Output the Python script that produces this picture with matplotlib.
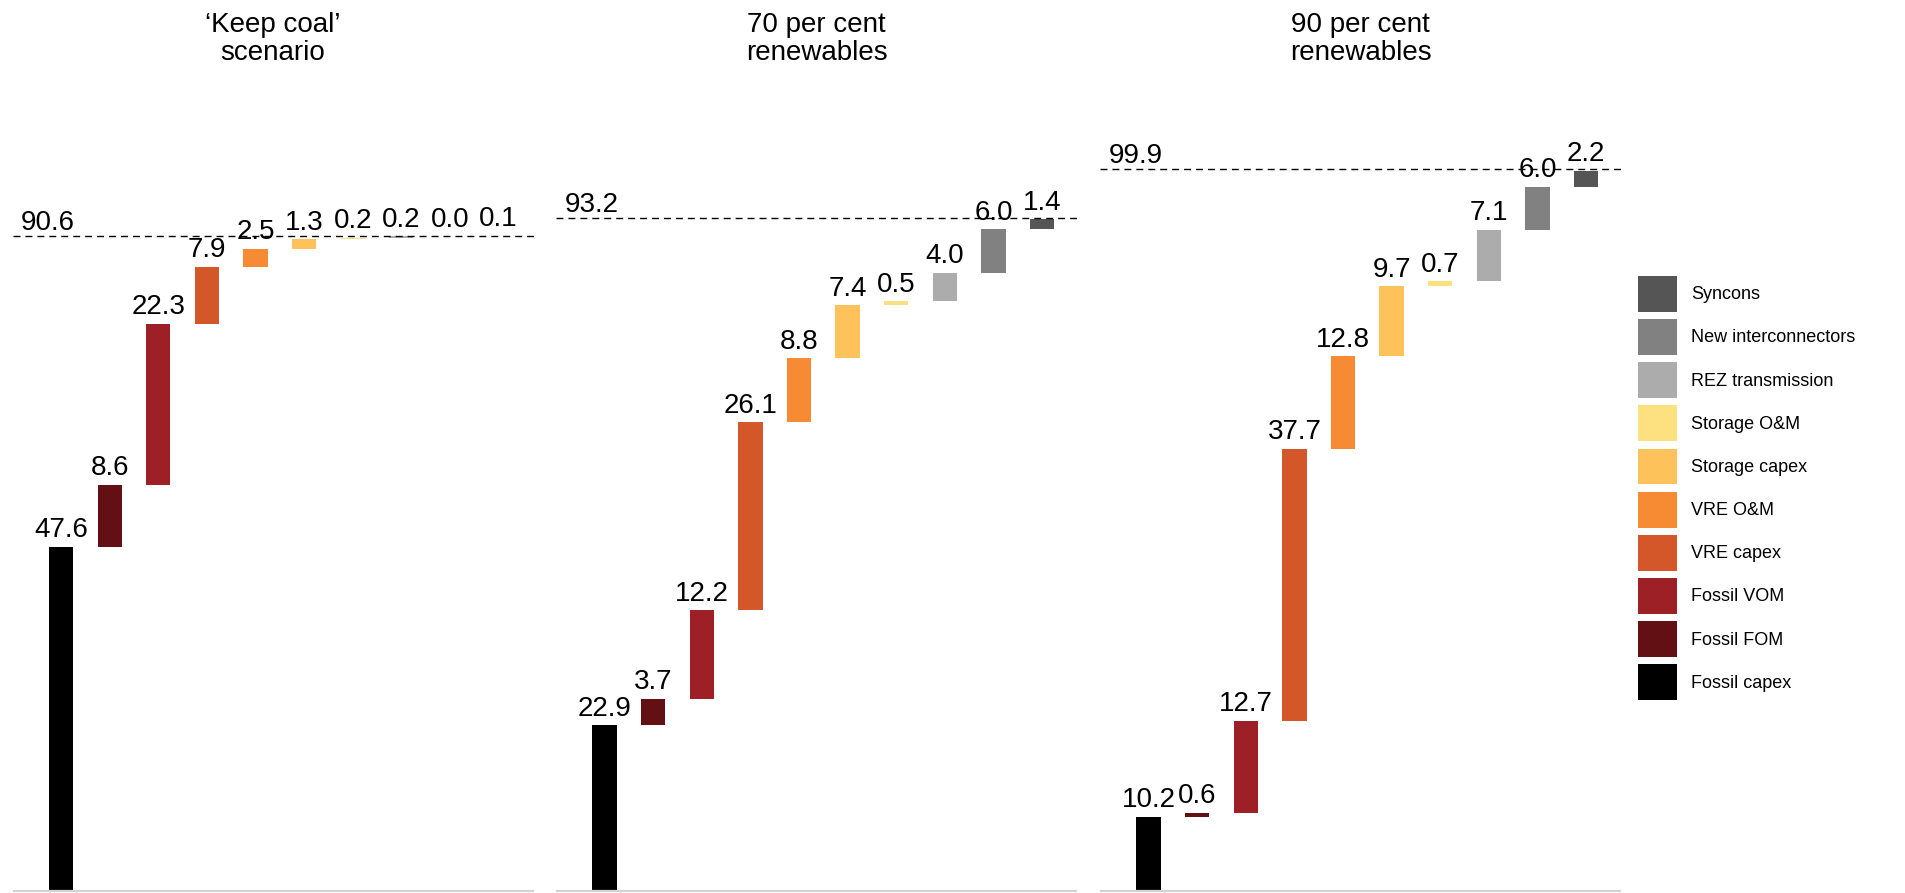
import matplotlib.pyplot as plt
from matplotlib.patches import Patch
import numpy as np

plt.rcParams['font.family'] = ['Liberation Sans', 'DejaVu Sans']

# cost components, bottom to top of each waterfall
categories = ['Fossil capex', 'Fossil FOM', 'Fossil VOM', 'VRE capex', 'VRE O&M',
              'Storage capex', 'Storage O&M', 'REZ transmission', 'New interconnectors', 'Syncons']
colours = ['#000000', '#631015', '#9e2027', '#d4572a', '#f68b33',
           '#fec25b', '#fde07f', '#acacac', '#818181', '#555555']

titles = ['\u2018Keep coal\u2019\nscenario', '70 per cent\nrenewables', '90 per cent\nrenewables']
keep_coal = [47.6, 8.6, 22.3, 7.9, 2.5, 1.3, 0.2, 0.2, 0.0, 0.1]
re70 = [22.9, 3.7, 12.2, 26.1, 8.8, 7.4, 0.5, 4.0, 6.0, 1.4]
re90 = [10.2, 0.6, 12.7, 37.7, 12.8, 9.7, 0.7, 7.1, 6.0, 2.2]
totals = [90.6, 93.2, 99.9]

scenarios = [keep_coal, re70, re90]

W, H = 1905, 893
fig = plt.figure(figsize=(W / 100, H / 100), dpi=100)

px_per_unit = 7.22
ax_top_px = 100
ax_h_px = H - ax_top_px
ybot = -2.4 / px_per_unit
ytop = ybot + ax_h_px / px_per_unit

lefts = [12.5, 556, 1100]
ax_w_px = 521

for k, vals in enumerate(scenarios):
    ax = fig.add_axes([lefts[k] / W, 0, ax_w_px / W, ax_h_px / H])
    vals = np.array(vals)
    bottoms = np.concatenate([[0], np.cumsum(vals)[:-1]])
    x = np.arange(len(vals))
    ax.bar(x, vals, bottom=bottoms, width=0.5, color=colours, linewidth=0)
    for i, v in enumerate(vals):
        ax.annotate(f'{v:.1f}', (i, bottoms[i] + v), xytext=(0, 2.5),
                    textcoords='offset points', ha='center', va='bottom', fontsize=20)
    ax.axhline(totals[k], color='black', lw=1, ls=(0, (5, 3.6)))
    ax.text(-0.83, totals[k], f'{totals[k]:.1f}', ha='left', va='bottom', fontsize=20)
    ax.axhline(0, color='#d3d3d3', lw=1.6)
    ax.set_xlim(-1, 9.72)
    ax.set_ylim(ybot, ytop)
    ax.axis('off')
    fig.text((lefts[k] + ax_w_px / 2) / W, 1 - 12 / H, titles[k], ha='center', va='top',
             fontsize=20, linespacing=1.1)

handles = [Patch(facecolor=c, label=n) for c, n in zip(colours, categories)][::-1]
fig.legend(handles=handles, loc='upper left', bbox_to_anchor=(1638 / W, 1 - 276 / H),
           frameon=False, fontsize=13, handlelength=2.15, handleheight=2.67,
           labelspacing=0.41, handletextpad=0.78, borderpad=0, borderaxespad=0)

fig.savefig('out.png', dpi=100)
